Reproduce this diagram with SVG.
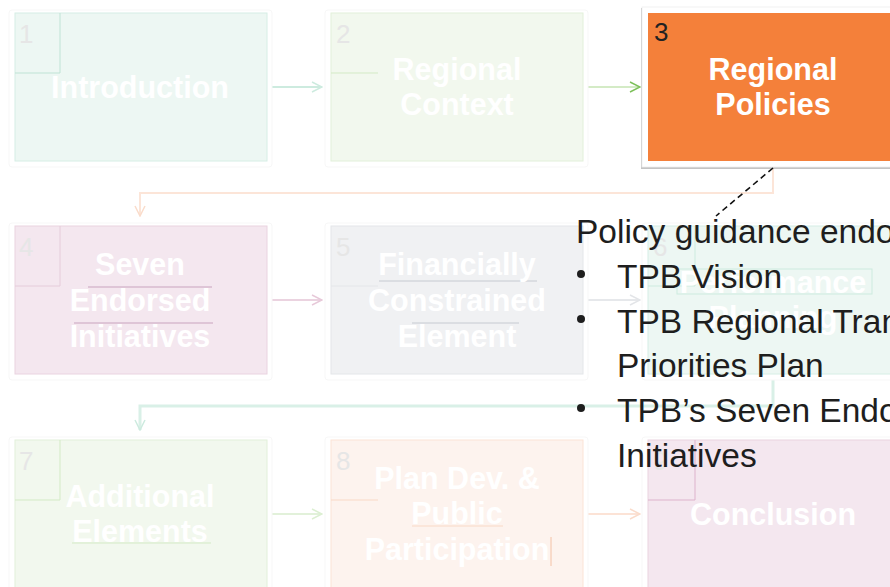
<svg xmlns="http://www.w3.org/2000/svg" width="890" height="587" viewBox="0 0 890 587">
<defs>
<marker id="arrM" viewBox="0 0 12 12" refX="11" refY="6" markerWidth="12" markerHeight="12" markerUnits="userSpaceOnUse" orient="auto">
<polyline points="1,1 11,6 1,11" fill="none" stroke="#CDEBDF" stroke-width="1.5"/>
</marker>
<marker id="arrG" viewBox="0 0 12 12" refX="11" refY="6" markerWidth="12" markerHeight="12" markerUnits="userSpaceOnUse" orient="auto">
<polyline points="1,1 11,6 1,11" fill="none" stroke="#7DC05A" stroke-width="1.5"/>
</marker>
<marker id="arrLG" viewBox="0 0 12 12" refX="11" refY="6" markerWidth="12" markerHeight="12" markerUnits="userSpaceOnUse" orient="auto">
<polyline points="1,1 11,6 1,11" fill="none" stroke="#DCEFD2" stroke-width="1.5"/>
</marker>
<marker id="arrP" viewBox="0 0 12 12" refX="11" refY="6" markerWidth="12" markerHeight="12" markerUnits="userSpaceOnUse" orient="auto">
<polyline points="1,1 11,6 1,11" fill="none" stroke="#FADCCB" stroke-width="1.5"/>
</marker>
<marker id="arrK" viewBox="0 0 12 12" refX="11" refY="6" markerWidth="12" markerHeight="12" markerUnits="userSpaceOnUse" orient="auto">
<polyline points="1,1 11,6 1,11" fill="none" stroke="#E7C9D9" stroke-width="1.5"/>
</marker>
<marker id="arrS" viewBox="0 0 12 12" refX="11" refY="6" markerWidth="12" markerHeight="12" markerUnits="userSpaceOnUse" orient="auto">
<polyline points="1,1 11,6 1,11" fill="none" stroke="#E3E5E8" stroke-width="1.5"/>
</marker>
</defs>
<style>
.card{fill:#ffffff;stroke:#f7f7f7;stroke-width:1}
.lbl{font-family:"Liberation Sans",Arial,sans-serif;font-weight:bold;font-size:30.5px;fill:#ffffff;text-anchor:middle}
.num{font-family:"Liberation Sans",Arial,sans-serif;font-size:26px;fill:#E6E6E6}
.mint{fill:#EDF7F3;stroke:#D6EEE5}
.green{fill:#F2F8EE;stroke:#E2F0DA}
.pink{fill:#F4E7EF;stroke:#EAD3E0}
.gray{fill:#F0F1F3;stroke:#E4E6E9}
.peach{fill:#FDF3EE;stroke:#FBE3D6}
.call{font-family:"Liberation Sans",Arial,sans-serif;font-size:33.5px;fill:#1e1e1e}
</style>
<rect width="890" height="587" fill="#ffffff"/>

<g id="connectors" fill="none" stroke-width="2">
<line x1="272" y1="87" x2="322" y2="87" stroke="#CDEBDF" marker-end="url(#arrM)"/>
<line x1="588" y1="87" x2="640" y2="87" stroke="#A9D78E" stroke-width="1.2" marker-end="url(#arrG)"/>
<polyline points="773,168 773,193 140,193 140,216" stroke="#FCE5D8" marker-end="url(#arrP)"/>
<line x1="272" y1="300" x2="322" y2="300" stroke="#EBD3E0" marker-end="url(#arrK)"/>
<line x1="588" y1="300" x2="640" y2="300" stroke="#E6E8EB" marker-end="url(#arrS)"/>
<polyline points="773,375 773,406 140,406 140,430" stroke="#D9F0E7" stroke-width="3" marker-end="url(#arrM)"/>
<line x1="272" y1="514" x2="322" y2="514" stroke="#E2F1DA" marker-end="url(#arrLG)"/>
<line x1="588" y1="514" x2="640" y2="514" stroke="#FCE3D6" marker-end="url(#arrP)"/>
</g>

<g id="node1">
<rect class="card" x="9" y="10" width="263" height="157" rx="3"/>
<rect class="mint" x="15" y="13" width="252" height="148"/>
<polyline points="15,73 60,73 60,13" fill="none" stroke="#BFE3D5"/>
<text class="num" x="19" y="43">1</text>
<text class="lbl" x="140" y="98">Introduction</text>
</g>

<g id="node2">
<rect class="card" x="325" y="10" width="263" height="157" rx="3"/>
<rect class="green" x="331" y="13" width="252" height="148"/>
<line x1="331" y1="73" x2="378" y2="73" stroke="#D3EAC5"/>
<text class="num" x="336" y="43">2</text>
<text class="lbl" x="457" y="80">Regional</text>
<text class="lbl" x="457" y="115">Context</text>
</g>

<g id="node3">
<rect x="641" y="8" width="262" height="161" fill="#c4c4c4"/>
<rect x="642" y="7" width="260" height="160" fill="#ffffff" stroke="#eeeeee" stroke-width="0.8"/>
<rect x="648" y="13" width="250" height="148" fill="#F4803A"/>
<text x="654" y="41" font-family="'Liberation Sans',Arial,sans-serif" font-size="26" fill="#222222">3</text>
<text class="lbl" x="773" y="80">Regional</text>
<text class="lbl" x="773" y="115">Policies</text>
</g>

<g id="node4">
<rect class="card" x="9" y="223" width="263" height="157" rx="3"/>
<rect class="pink" x="15" y="226" width="252" height="148"/>
<polyline points="15,286 60,286 60,226" fill="none" stroke="#E5CCDA"/>
<text class="num" x="19" y="256">4</text>
<line x1="88" y1="287" x2="212" y2="287" stroke="#C9A3BE"/>
<line x1="74" y1="323" x2="213" y2="323" stroke="#C9A3BE"/>
<text class="lbl" x="140" y="275">Seven</text>
<text class="lbl" x="140" y="311">Endorsed</text>
<text class="lbl" x="140" y="347">Initiatives</text>
</g>

<g id="node5">
<rect class="card" x="325" y="223" width="263" height="157" rx="3"/>
<rect class="gray" x="331" y="226" width="252" height="148"/>
<line x1="331" y1="286" x2="378" y2="286" stroke="#E4E6E9"/>
<text class="num" x="336" y="256">5</text>
<line x1="379" y1="281" x2="537" y2="281" stroke="#C6CAD1"/>
<line x1="412" y1="323" x2="519" y2="323" stroke="#C6CAD1"/>
<text class="lbl" x="457" y="275">Financially</text>
<text class="lbl" x="457" y="311">Constrained</text>
<text class="lbl" x="457" y="347">Element</text>
</g>

<g id="node6">
<rect class="card" x="642" y="223" width="260" height="157" rx="3"/>
<rect class="mint" x="648" y="226" width="250" height="148"/>
<polyline points="648,286 695,286 695,226" fill="none" stroke="#CDEBDF"/>
<text class="num" x="653" y="256">6</text>
<rect x="677" y="269" width="195" height="25" fill="none" stroke="#CDEBDF"/>
<text class="lbl" x="773" y="293">Performance</text>
<text class="lbl" x="773" y="328">Planning</text>
</g>

<g id="node7">
<rect class="card" x="9" y="437" width="263" height="157" rx="3"/>
<rect class="green" x="15" y="440" width="252" height="148"/>
<polyline points="15,500 60,500 60,440" fill="none" stroke="#D3EAC5"/>
<text class="num" x="19" y="470">7</text>
<line x1="72" y1="543" x2="211" y2="543" stroke="#D3EAC5"/>
<text class="lbl" x="140" y="507">Additional</text>
<text class="lbl" x="140" y="542">Elements</text>
</g>

<g id="node8">
<rect class="card" x="325" y="437" width="263" height="157" rx="3"/>
<rect class="peach" x="331" y="440" width="252" height="148"/>
<line x1="331" y1="500" x2="378" y2="500" stroke="#F9D9C6"/>
<text class="num" x="336" y="470">8</text>
<line x1="412" y1="526" x2="503" y2="526" stroke="#F9D9C6"/>
<line x1="551" y1="537" x2="551" y2="566" stroke="#F4C2A6"/>
<text class="lbl" x="457" y="489">Plan Dev. &amp;</text>
<text class="lbl" x="457" y="524">Public</text>
<text class="lbl" x="457" y="560">Participation</text>
</g>

<g id="node9">
<rect class="card" x="642" y="437" width="260" height="157" rx="3"/>
<rect class="pink" x="648" y="440" width="250" height="148"/>
<polyline points="648,500 695,500 695,440" fill="none" stroke="#DDB3CC"/>
<text class="num" x="653" y="470">9</text>
<text class="lbl" x="773" y="525">Conclusion</text>
</g>

<g id="callout">
<line x1="773" y1="168" x2="716" y2="216" stroke="#111111" stroke-width="1.6" stroke-dasharray="6,4"/>
<text class="call" x="576" y="243">Policy guidance endorsed by the TPB:</text>
<circle cx="581" cy="274" r="4" fill="#1e1e1e"/>
<text class="call" x="617" y="288">TPB Vision</text>
<circle cx="581" cy="319" r="4" fill="#1e1e1e"/>
<text class="call" x="617" y="333">TPB Regional Transportation</text>
<text class="call" x="617" y="377">Priorities Plan</text>
<circle cx="581" cy="408" r="4" fill="#1e1e1e"/>
<text class="call" x="617" y="422">TPB’s Seven Endorsed</text>
<text class="call" x="617" y="467">Initiatives</text>
</g>
</svg>
